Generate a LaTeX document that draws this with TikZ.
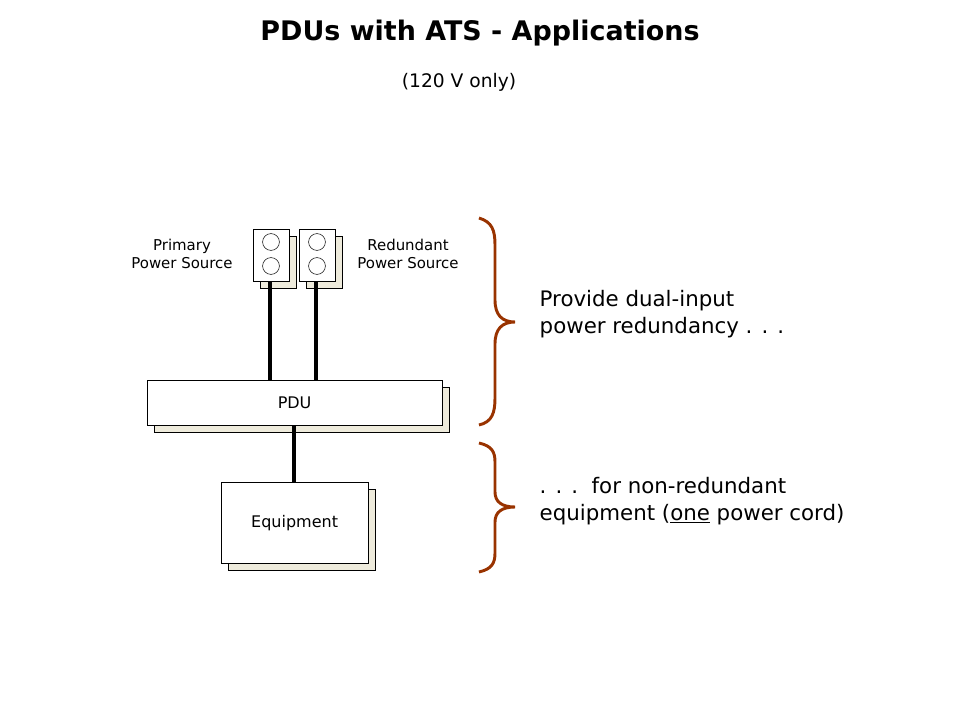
\documentclass[tikz,border=0pt]{standalone}
\usepackage{fontspec}
\setmainfont{DejaVu Sans}
\usetikzlibrary{positioning}
\definecolor{shadowcream}{HTML}{EEEBDC}
\definecolor{bracebrown}{HTML}{993300}
\tikzset{
  % box with offset shadow
  box/.style={draw, fill=white, inner sep=0pt, anchor=north west},
  boxshadow/.style={draw, fill=shadowcream, inner sep=0pt, anchor=north west},
  cord/.style={line width=2.6pt},
  brace/.style={bracebrown, line width=2.2pt},
  small/.style={font=\fontsize{11.2}{13}\selectfont, align=center},
  big/.style={font=\fontsize{16}{20.5}\selectfont, align=left, anchor=west},
}
\begin{document}
\begin{tikzpicture}[x=0.75pt, y=-0.75pt]
  \useasboundingbox (0,0) rectangle (960,720);

  \node[font=\bfseries\fontsize{20.2}{23}\selectfont] (title) at (480,33) {PDUs with ATS - Applications};
  \node[font=\fontsize{14}{16}\selectfont] (sub) at (459,82) {(120 V only)};

  % outlets
  \node[boxshadow, minimum width=27pt, minimum height=39pt] (ps1) at (260,236) {};
  \node[box, minimum width=27pt, minimum height=39pt] (p1) at (253,229) {};
  \node[boxshadow, minimum width=27pt, minimum height=39pt] (rs1) at (306,236) {};
  \node[box, minimum width=27pt, minimum height=39pt] (r1) at (299,229) {};
  \foreach \x/\n in {271/p, 317/r}{
    \draw (\x,242) circle (6.3pt);
    \draw (\x,266) circle (6.3pt);
  }
  \node[small] (primary) at (182,254) {Primary\\Power Source};
  \node[small] (redundant) at (408,254) {Redundant\\Power Source};

  % PDU
  \node[boxshadow, minimum width=221pt, minimum height=34pt] (pdus) at (154,387) {};
  \node[box, minimum width=221pt, minimum height=34pt, font=\fontsize{12}{14}\selectfont] (pdu) at (147,380) {PDU};

  % equipment
  \node[boxshadow, minimum width=110pt, minimum height=61pt] (eqs) at (228,489) {};
  \node[box, minimum width=110pt, minimum height=61pt, font=\fontsize{12}{14}\selectfont] (eq) at (221,482) {Equipment};

  \coordinate (c1) at (p1.south -| 270,0);
  \coordinate (c2) at (r1.south -| 316,0);
  \draw[cord] (c1) -- (c1 |- pdu.north);
  \draw[cord] (c2) -- (c2 |- pdu.north);
  \draw[cord] (pdu.south -| 294,0) -- (eq.north -| 294,0);

  % braces
  \draw[brace] (479,218) .. controls (492,222) and (495,230) .. (495,245)
    -- (495,300) .. controls (495,315) and (502,322) .. (515,322)
    .. controls (502,322) and (495,329) .. (495,344)
    -- (495,398) .. controls (495,413) and (492,422) .. (479,425);
  \draw[brace] (479,443) .. controls (492,446) and (495,452) .. (495,462)
    -- (495,492) .. controls (495,502) and (502,507) .. (515,507)
    .. controls (502,507) and (495,512) .. (495,522)
    -- (495,553) .. controls (495,563) and (492,569) .. (479,572);

  \node[big] (t1) at (535,314) {Provide dual-input\\power redundancy . . .};
  \node[big] (t2) at (535,501) {. . .\ \ for non-redundant\\equipment (\underline{one} power cord)};
\end{tikzpicture}
\end{document}
